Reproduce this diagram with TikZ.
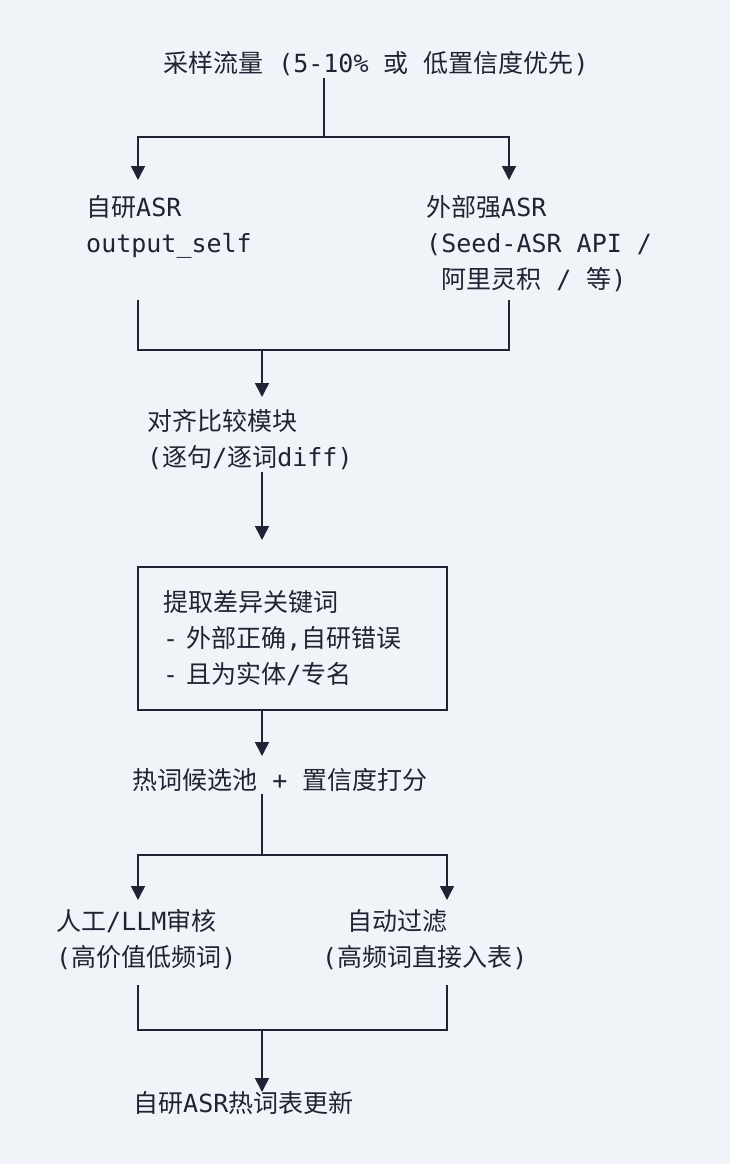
\documentclass[tikz,border=0pt]{standalone}
\usepackage{fontspec}
\setmainfont{DejaVu Sans Mono}
\newfontfamily\cjkfont{Noto Sans CJK SC}
\usetikzlibrary{arrows.meta, positioning}
\definecolor{bgcol}{HTML}{F0F3F8}
\definecolor{ink}{HTML}{1E2433}
\newcommand{\zh}[1]{{\cjkfont #1}}

\begin{document}
\begin{tikzpicture}[x=1pt, y=-1pt]
    % Define styles
    \tikzstyle{txt} = [text=ink, align=left, inner sep=2pt, anchor=west, font={\fontsize{25}{36}\selectfont}]
    \tikzstyle{frame} = [txt, draw=ink, line width=1.6pt, anchor=center, minimum width=309pt, minimum height=143pt, inner xsep=23pt, text width=259pt]
    \tikzstyle{wire} = [draw=ink, line width=1.6pt]
    \tikzstyle{arrow} = [wire, -{Triangle[width=14pt,length=14pt]}]

    % Background
    \fill[bgcol] (0,0) rectangle (730,1164);
    \useasboundingbox (0,0) rectangle (730,1164);

    % Text blocks
    \node[txt] (src) at (161,64) {\zh{采样流量} (5-10\% \zh{或} \zh{低置信度优先})};
    \node[txt] (selfasr) at (84,226.5) {\zh{自研}ASR\\output\_self};
    \node[txt] (extasr) at (424,244) {\zh{外部强}ASR\\(Seed-ASR API /\\\hspace*{15pt}\zh{阿里灵积} / \zh{等})};
    \node[txt] (align) at (145,440) {\zh{对齐比较模块}\\(\zh{逐句}/\zh{逐词}diff)};
    \node[frame] (extract) at (292.5,638.5) {\zh{提取差异关键词}\\- \zh{外部正确},\zh{自研错误}\\- \zh{且为实体}/\zh{专名}};
    \node[txt] (pool) at (130,780) {\zh{热词候选池} + \zh{置信度打分}};
    \node[txt] (review) at (54,939.5) {\zh{人工}/LLM\zh{审核}\\(\zh{高价值低频词})};
    \node[txt] (filter) at (320,939.5) {\hspace*{25pt}\zh{自动过滤}\\(\zh{高频词直接入表})};
    \node[txt] (update) at (131,1103) {\zh{自研}ASR\zh{热词表更新}};

    % Junctions
    \coordinate (split1) at (324,137);
    \coordinate (inL) at (138,180);
    \coordinate (inR) at (509,180);
    \coordinate (outL) at (138,300);
    \coordinate (outR) at (509,300);
    \coordinate (join1) at (262,350);
    \coordinate (in2) at (262,397);
    \coordinate (in3) at (262,540);
    \coordinate (in4) at (262,756);
    \coordinate (split2) at (262,855);
    \coordinate (in5L) at (138,900);
    \coordinate (in5R) at (447,900);
    \coordinate (out5L) at (138,985);
    \coordinate (out5R) at (447,985);
    \coordinate (join2) at (262,1030);
    \coordinate (in6) at (262,1092);

    % Flows
    \draw[wire] (src.south -| split1) -- (split1);
    \draw[arrow] (split1) -| (inL);
    \draw[arrow] (split1) -| (inR);
    \draw[wire] (outL) |- (join1) -| (outR);
    \draw[arrow] (join1) -- (in2);
    \draw[arrow] (align.south -| in2) -- (in3);
    \draw[arrow] (extract.south -| in2) -- (in4);
    \draw[wire] (pool.south -| split2) -- (split2);
    \draw[arrow] (split2) -| (in5L);
    \draw[arrow] (split2) -| (in5R);
    \draw[wire] (out5L) |- (join2) -| (out5R);
    \draw[arrow] (join2) -- (in6);

\end{tikzpicture}
\end{document}
